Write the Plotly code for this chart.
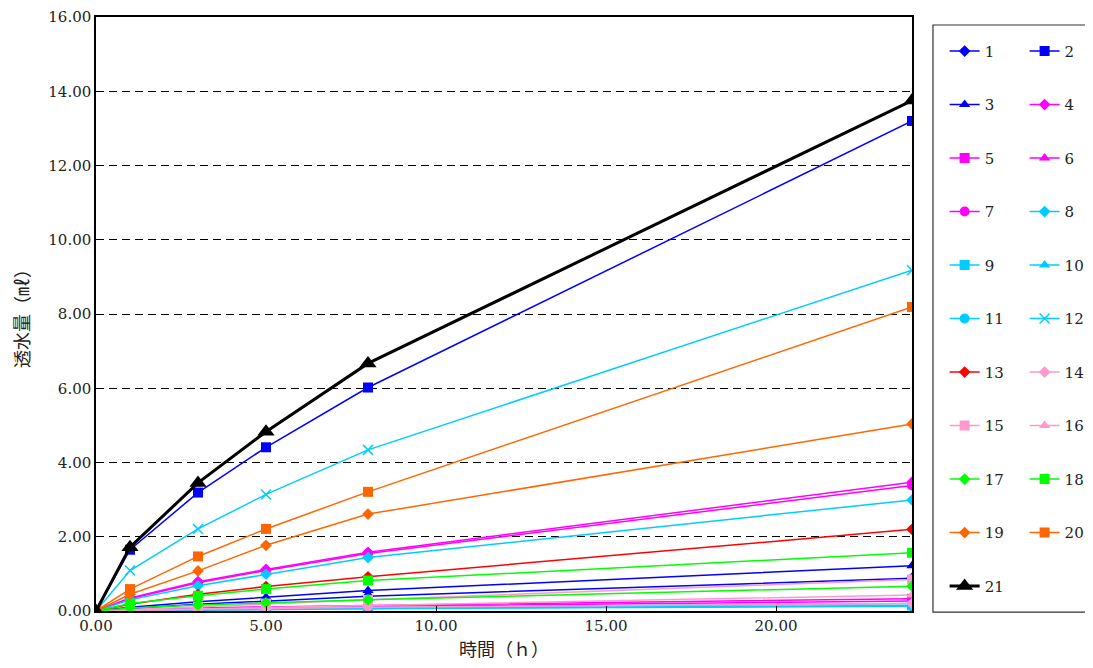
import plotly.graph_objects as go

hours = [0, 1, 3, 5, 8, 24]
series_names = [str(i) for i in range(1, 22)]
s1 = [0, 0.07, 0.18, 0.27, 0.40, 0.88]
s2 = [0, 1.65, 3.19, 4.41, 6.02, 13.20]
s3 = [0, 0.10, 0.25, 0.37, 0.55, 1.22]
s4 = [0, 0.35, 0.79, 1.12, 1.58, 3.47]
s5 = [0, 0.03, 0.08, 0.11, 0.15, 0.33]
s6 = [0, 0.02, 0.06, 0.09, 0.12, 0.27]
s7 = [0, 0.33, 0.76, 1.09, 1.55, 3.38]
s8 = [0, 0.30, 0.68, 0.99, 1.44, 2.99]
s9 = [0, 0.01, 0.03, 0.05, 0.07, 0.15]
s10 = [0, 0.01, 0.04, 0.06, 0.09, 0.20]
s11 = [0, 0.01, 0.03, 0.04, 0.06, 0.13]
s12 = [0, 1.09, 2.21, 3.14, 4.34, 9.18]
s13 = [0, 0.18, 0.45, 0.66, 0.92, 2.20]
s14 = [0, 0.02, 0.05, 0.07, 0.10, 0.20]
s15 = [0, 0.04, 0.12, 0.20, 0.30, 0.85]
s16 = [0, 0.02, 0.07, 0.10, 0.15, 0.43]
s17 = [0, 0.08, 0.16, 0.22, 0.30, 0.67]
s18 = [0, 0.20, 0.41, 0.59, 0.82, 1.57]
s19 = [0, 0.45, 1.08, 1.77, 2.61, 5.04]
s20 = [0, 0.59, 1.47, 2.21, 3.21, 8.19]
s21 = [0, 1.72, 3.45, 4.83, 6.67, 13.75]
all_series = [s1, s2, s3, s4, s5, s6, s7, s8, s9, s10, s11, s12, s13, s14,
              s15, s16, s17, s18, s19, s20, s21]

BLUE = "#0000FF"; MAG = "#FF00FF"; CY = "#00CCFF"; RED = "#FF0000"
PINK = "#FF99CC"; GRN = "#00FF00"; ORG = "#FF6600"; BLK = "#000000"
colors = [BLUE, BLUE, BLUE, MAG, MAG, MAG, MAG, CY, CY, CY, CY, CY, RED,
          PINK, PINK, PINK, GRN, GRN, ORG, ORG, BLK]
symbols = ["diamond", "square", "triangle-up", "diamond", "square", "triangle-up",
           "circle", "diamond", "square", "triangle-up", "circle", "x-thin",
           "diamond", "diamond", "square", "triangle-up", "diamond", "square",
           "diamond", "square", "triangle-up"]
sizes = [9, 10, 10, 9, 10, 10, 10, 9, 10, 10, 10, 10, 9, 9, 10, 10, 9, 10, 9, 10, 15]

FONT = "DejaVu Serif, Noto Sans CJK JP, serif"
TXT = "#222222"

fig = go.Figure()
for i, (name, ys) in enumerate(zip(series_names, all_series)):
    sym = symbols[i]
    marker = dict(symbol=sym, size=sizes[i], color=colors[i])
    if sym == "x-thin":
        marker["line"] = dict(color=colors[i], width=1.5)
    fig.add_trace(go.Scatter(
        x=hours, y=ys, name=name, mode="lines+markers",
        line=dict(color=colors[i], width=3 if i == 20 else 1.5),
        marker=marker,
        legend="legend" if i % 2 == 0 else "legend2",
        legendgroup=name,
    ))

legend_common = dict(
    font=dict(family=FONT, size=15, color=TXT),
    bgcolor="rgba(0,0,0,0)", borderwidth=0,
    tracegroupgap=31, yanchor="top", xanchor="left",
)

fig.update_layout(
    width=1093, height=668,
    margin=dict(l=88, r=189, t=9, b=65, autoexpand=False),
    paper_bgcolor="white", plot_bgcolor="white",
    font=dict(family=FONT, size=14, color=TXT),
    showlegend=True,
    legend=dict(x=1.04, y=0.97, **legend_common),
    legend2=dict(x=1.138, y=0.97, **legend_common),
    xaxis=dict(
        range=[0, 24], dtick=5, tick0=0, tickformat=".2f", automargin=False,
        showgrid=False, zeroline=False,
        showline=True, linecolor="black", linewidth=1.5, mirror=True,
        ticks="inside", ticklen=5, tickcolor="black",
        title=dict(text="時間（ｈ）", font=dict(family=FONT, size=18, color=TXT), standoff=10),
        tickfont=dict(family=FONT, size=15, color=TXT),
    ),
    yaxis=dict(
        range=[0, 16], dtick=2, tick0=0, tickformat=".2f", automargin=False,
        showgrid=True, gridcolor="black", griddash="8px,5px", gridwidth=1,
        zeroline=False,
        showline=True, linecolor="black", linewidth=1.5, mirror=True,
        ticks="",
        title=dict(text="透水量（㎖）", font=dict(family=FONT, size=18, color=TXT), standoff=14),
        tickfont=dict(family=FONT, size=15, color=TXT),
    ),
    shapes=[dict(type="rect", xref="paper", yref="paper",
                 x0=1.0257, x1=1.218, y0=-0.002, y1=0.9865,
                 line=dict(color="#333333", width=1.2), fillcolor="rgba(0,0,0,0)")],
)

fig.write_html("out.html")
